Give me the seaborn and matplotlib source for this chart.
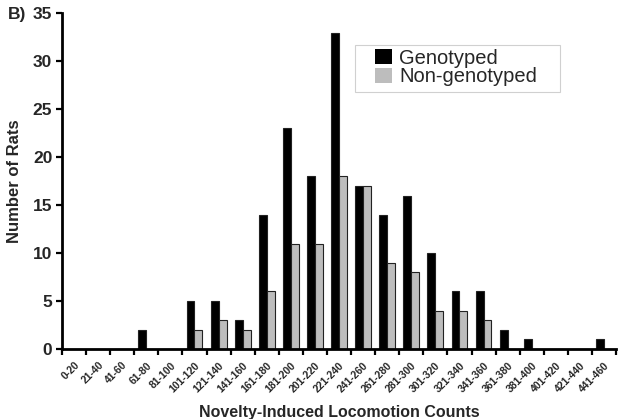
import matplotlib
matplotlib.use("Agg")
import matplotlib.pyplot as plt
import matplotlib.transforms as mtransforms
from matplotlib.patches import Rectangle
import seaborn as sns
import pandas as pd
import numpy as np

categories = ["0-20", "21-40", "41-60", "61-80", "81-100", "101-120", "121-140",
              "141-160", "161-180", "181-200", "201-220", "221-240", "241-260",
              "261-280", "281-300", "301-320", "321-340", "341-360", "361-380",
              "381-400", "401-420", "421-440", "441-460"]
genotyped = [0, 0, 0, 2, 0, 5, 5, 3, 14, 23, 18, 33, 17, 14, 16, 10, 6, 6, 2, 1, 0, 0, 1]
non_genotyped = [0, 0, 0, 0, 0, 2, 3, 2, 6, 11, 11, 18, 17, 9, 8, 4, 4, 3, 0, 0, 0, 0, 0]
series_names = ["Genotyped", "Non-genotyped"]
yticks = [0, 5, 10, 15, 20, 25, 30, 35]

df = pd.DataFrame({
    "cat": categories * 2,
    "count": genotyped + non_genotyped,
    "group": [series_names[0]] * len(categories) + [series_names[1]] * len(categories),
})

sns.set_theme(style="white")
plt.rcParams["font.family"] = ["Liberation Sans", "DejaVu Sans"]

W, H = 622, 419
fig = plt.figure(figsize=(6.22, 4.19), dpi=100)
ax = fig.add_axes([0.0997, 0.167, 0.8907, 0.801])

sns.barplot(data=df, x="cat", y="count", hue="group", order=categories,
            hue_order=series_names, palette=["black", "#bdbdbd"], width=0.66,
            edgecolor="#222222", linewidth=0.8, ax=ax, errorbar=None)

ax.set_xlim(-0.5, len(categories) - 0.5)
ax.set_ylim(0, 35)
ax.set_yticks(yticks)
ax.set_yticklabels([str(v) for v in yticks], fontsize=12.5, fontweight="bold")

ax.set_xticks(np.arange(len(categories)))
ax.set_xticklabels(categories, rotation=45, ha="right", rotation_mode="anchor",
                   fontsize=7.5, fontweight="bold")
offset = mtransforms.ScaledTranslation(-5 / 100, 0, fig.dpi_scale_trans)
for lbl in ax.get_xticklabels():
    lbl.set_transform(lbl.get_transform() + offset)
ax.set_xticks(np.arange(len(categories) + 1) - 0.5, minor=True)
ax.tick_params(axis="x", which="major", length=0, pad=8)
ax.tick_params(axis="x", which="minor", length=4, width=1.6, color="black", direction="out", bottom=True)
ax.tick_params(axis="y", which="major", length=4, width=1.6, color="black", direction="out", left=True, pad=3)

for s in ["top", "right"]:
    ax.spines[s].set_visible(False)
for s in ["left", "bottom"]:
    ax.spines[s].set_color("black")
    ax.spines[s].set_linewidth(2.0)

ax.set_xlabel("Novelty-Induced Locomotion Counts", fontsize=11.5, fontweight="bold", labelpad=8)
ax.set_ylabel("Number of Rats", fontsize=12, fontweight="bold", labelpad=8)

leg = ax.legend(loc="upper left", bbox_to_anchor=(375 / W, 1 - 48.5 / H),
                bbox_transform=fig.transFigure, fontsize=14.5,
                frameon=False, handlelength=0.85, handleheight=0.75, handletextpad=0.35,
                labelspacing=0.0, borderpad=0, borderaxespad=0, title=None)
for h in leg.legend_handles:
    h.set_linewidth(0)

frame = Rectangle((355 / W, 1 - 92 / H), 205 / W, 47 / H, transform=fig.transFigure,
                  facecolor="white", edgecolor="#d0d0d0", linewidth=0.8, zorder=4)
fig.add_artist(frame)
leg.set_zorder(5)
fig.add_artist(leg)

fig.text(0.012, 0.965, "B)", fontsize=12.5, fontweight="bold", va="center", ha="left")

fig.savefig("out.png", dpi=100)
